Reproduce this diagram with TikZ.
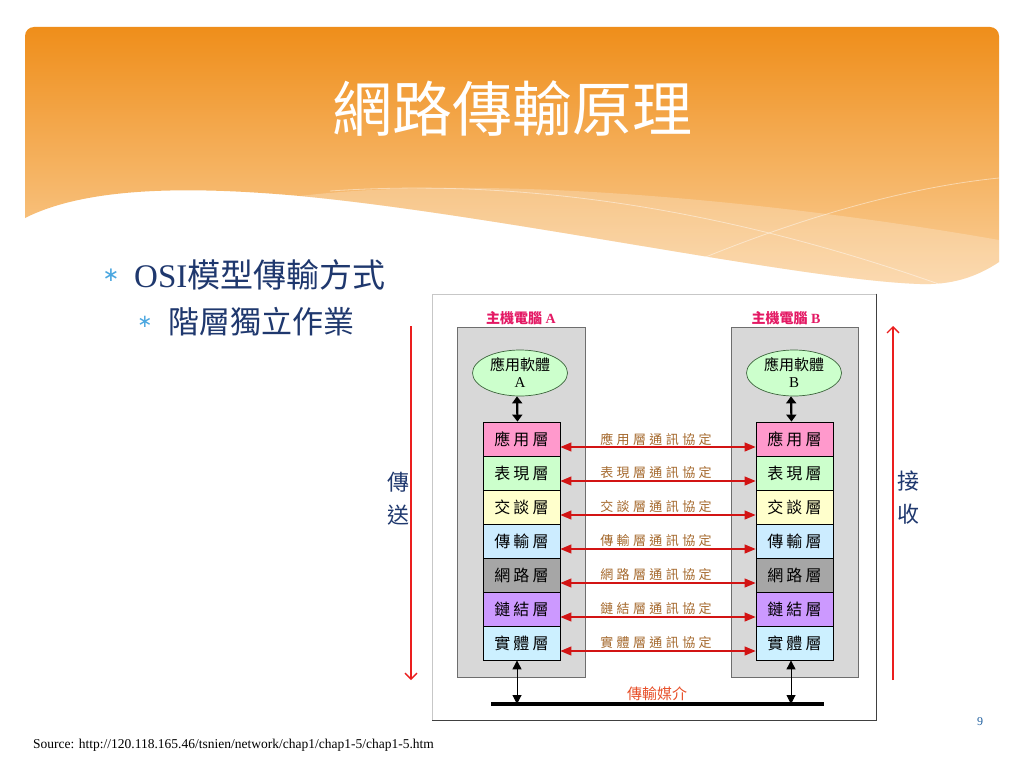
\documentclass[tikz,border=0pt]{standalone}
\usepackage{fontspec}
\setmainfont{Liberation Serif}
\newfontfamily\cjk{Noto Sans CJK TC}
\newfontfamily\cjklay[LetterSpace=20]{Noto Sans CJK TC}
\newfontfamily\cjkpro[LetterSpace=26]{Noto Sans CJK TC}
\newfontfamily\dvs{DejaVu Sans}
\usetikzlibrary{arrows.meta,shapes.geometric}
\definecolor{bannerTop}{RGB}{239,142,26}
\definecolor{bannerBot}{RGB}{250,208,155}
\definecolor{navy}{RGB}{31,56,110}
\definecolor{bulletblue}{RGB}{75,167,224}
\definecolor{hosttitle}{RGB}{228,25,100}
\definecolor{hostfill}{RGB}{216,216,216}
\definecolor{hostdraw}{RGB}{110,110,110}
\definecolor{ellfill}{RGB}{204,255,204}
\definecolor{elldraw}{RGB}{60,100,60}
\definecolor{protbrown}{RGB}{165,105,45}
\definecolor{protred}{RGB}{210,20,20}
\definecolor{flowred}{RGB}{235,30,30}
\definecolor{medred}{RGB}{232,80,42}
\definecolor{pagenum}{RGB}{32,96,160}
\definecolor{Lone}{RGB}{255,153,204}
\definecolor{Ltwo}{RGB}{204,255,204}
\definecolor{Lthree}{RGB}{255,255,204}
\definecolor{Lfour}{RGB}{204,236,255}
\definecolor{Lfive}{RGB}{166,166,166}
\definecolor{Lsix}{RGB}{204,153,255}
\definecolor{Lseven}{RGB}{204,240,255}
\begin{document}
\begin{tikzpicture}[x=1pt,y=-1pt,
  hostbox/.style={draw=hostdraw, fill=hostfill, line width=0.9pt, inner sep=0pt, minimum height=350pt},
  hostlabel/.style={text=hosttitle, font=\bfseries\fontsize{14}{14}\selectfont, inner sep=0pt},
  appell/.style={ellipse, draw=elldraw, fill=ellfill, line width=0.7pt, minimum width=95pt, minimum height=46pt, inner sep=0pt, align=center, font=\fontsize{15}{17}\selectfont},
  layerbox/.style={draw=black, line width=0.8pt, minimum width=77pt, minimum height=34pt, inner sep=0pt, font=\cjklay\fontsize{16}{16}\selectfont},
  protarrow/.style={draw=protred, line width=1.1pt, {Triangle[length=11pt,width=9pt,fill=protred]}-{Triangle[length=11pt,width=9pt,fill=protred]}},
  prottext/.style={text=protbrown, font=\cjkpro\fontsize{13}{13}\selectfont, inner sep=0pt},
  blackarrow/.style={draw=black, line width=2.2pt, {Triangle[length=7pt,width=10pt]}-{Triangle[length=7pt,width=10pt]}},
  thinarrow/.style={draw=black, line width=1pt, {Triangle[length=9pt,width=9pt]}-{Triangle[length=9pt,width=9pt]}},
  flowarrow/.style={draw=flowred, line width=1.3pt, -{Straight Barb[length=6pt,width=12pt]}},
  sidetext/.style={text=navy, font=\cjk\fontsize{22}{22}\selectfont, inner sep=0pt}
]
\useasboundingbox (0,0) rectangle (1024,768);
\fill[white] (0,0) rectangle (1024,768);

% banner
\shade[top color=bannerTop, bottom color=bannerBot]
  (25,218) [rounded corners=9pt] -- (25,27) -- (999,27) [sharp corners] -- (999,262)
  .. controls (975,278) and (950,285) .. (920,284)
  .. controls (800,280) and (500,215) .. (300,196)
  .. controls (200,187) and (90,185) .. (25,218) -- cycle;
\fill[white, opacity=0.22] (300,196) .. controls (500,172) and (800,205) .. (999,240) -- (999,262)
  .. controls (975,278) and (950,285) .. (920,284)
  .. controls (800,280) and (500,215) .. (300,196) -- cycle;
\draw[white, opacity=0.45, line width=0.8pt] (330,191) .. controls (550,176) and (760,220) .. (950,288);
\draw[white, opacity=0.45, line width=0.8pt] (640,285) .. controls (780,222) and (900,188) .. (999,178);

\node[text=white, font=\cjk\fontsize{60}{60}\selectfont, inner sep=0pt] (title) at (512,109) {網路傳輸原理};

% bullets
\node[text=bulletblue, font=\dvs\fontsize{20}{20}\selectfont, inner sep=0pt] (b1) at (111,275) {∗};
\node[text=navy, anchor=west, inner sep=0pt, font=\fontsize{33}{33}\selectfont] (t1) at (134,275) {OSI{\cjk 模型傳輸方式}};
\node[text=bulletblue, font=\dvs\fontsize{18}{18}\selectfont, inner sep=0pt] (b2) at (145,322) {∗};
\node[text=navy, anchor=west, inner sep=0pt, font=\cjk\fontsize{31}{31}\selectfont] (t2) at (168,322) {階層獨立作業};

% diagram frame
\node[draw=black!22, fill=white, minimum width=444pt, minimum height=426pt, inner sep=0pt, line width=0.8pt] (frame) at (654,507) {};
\draw[black!75, line width=1.2pt] (frame.north east) -- (frame.south east) -- (frame.south west);

% hosts
\node[hostbox, minimum width=128pt] (hostA) at (521,502) {};
\node[hostbox, minimum width=127pt] (hostB) at (794.5,502) {};
\node[hostlabel] (titleA) at (521,318) {{\cjk 主機電腦} A};
\node[hostlabel] (titleB) at (786,318) {{\cjk 主機電腦} B};

\node[appell] (ellA) at (520,373) {{\cjk 應用軟體}\\A};
\node[appell] (ellB) at (794,373) {{\cjk 應用軟體}\\B};

% layers
\foreach \i/\t/\c in {1/應用層/Lone,2/表現層/Ltwo,3/交談層/Lthree,4/傳輸層/Lfour,5/網路層/Lfive,6/鏈結層/Lsix,7/實體層/Lseven}{
  \node[layerbox, fill=\c] (la\i) at (521.5,{439+34*(\i-1)}) {\t};
  \node[layerbox, fill=\c] (lb\i) at (794.5,{439+34*(\i-1)}) {\t};
}
\foreach \i/\t in {1/應用層通訊協定,2/表現層通訊協定,3/交談層通訊協定,4/傳輸層通訊協定,5/網路層通訊協定,6/鏈結層通訊協定,7/實體層通訊協定}{
  \draw[protarrow] ([yshift=-8pt]la\i.east) -- ([yshift=-8pt]lb\i.west);
  \path (la\i) -- (lb\i) node[midway, prottext, xshift=-2pt] (pt\i) {\t};
}

% app arrows
\draw[blackarrow] ([xshift=-3pt]ellA.south) -- ([xshift=-4pt]la1.north);
\draw[blackarrow] ([xshift=-3pt]ellB.south) -- ([xshift=-3pt]lb1.north);

% medium
\coordinate (medL) at (491,704);
\coordinate (medR) at (824,704);
\draw[black, line width=4pt] (medL) -- (medR);
\draw[thinarrow] ([xshift=-4.5pt]la7.south) -- ([xshift=-4.5pt]la7.south |- medL);
\draw[thinarrow] ([xshift=-3.5pt]lb7.south) -- ([xshift=-3.5pt]lb7.south |- medL);
\node[text=medred, font=\cjk\fontsize{15}{15}\selectfont, inner sep=0pt] (medium) at (657,694) {傳輸媒介};

% send / receive
\coordinate (sT) at (411,326);
\coordinate (sB) at (411,680);
\draw[flowarrow] (sT) -- (sB);
\node[sidetext] (s1) at (398,482) {傳};
\node[sidetext] (s2) at (398,515) {送};
\coordinate (rT) at (893,326);
\coordinate (rB) at (893,680);
\draw[flowarrow] (rB) -- (rT);
\node[sidetext] (r1) at (908,481) {接};
\node[sidetext] (r2) at (908,514) {收};

% footer
\node[text=pagenum, font=\fontsize{12}{12}\selectfont, inner sep=0pt] (pg) at (980,722) {9};
\node[anchor=west, text=black, font=\fontsize{13.5}{13.5}\selectfont, inner sep=0pt] (src) at (33,745) {Source: http://120.118.165.46/tsnien/network/chap1/chap1-5/chap1-5.htm};
\end{tikzpicture}
\end{document}
